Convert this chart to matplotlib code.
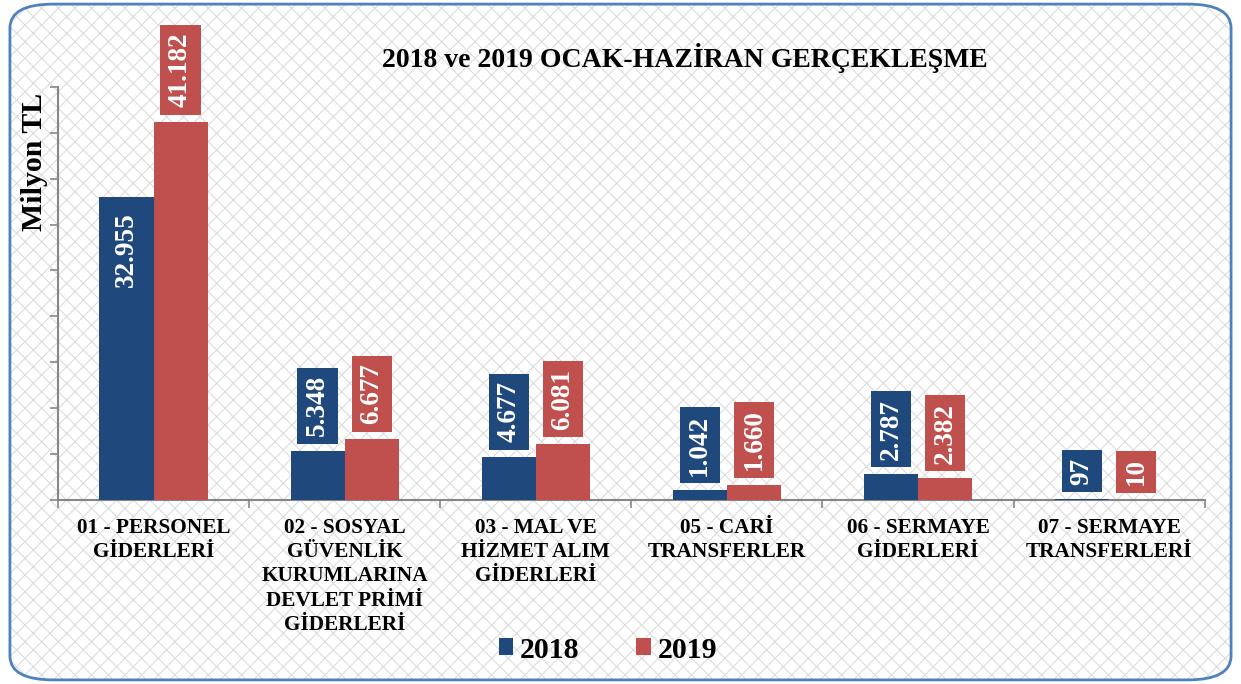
import matplotlib.pyplot as plt
from matplotlib.patches import FancyBboxPatch
import numpy as np

plt.rcParams['font.family'] = ['Liberation Serif', 'DejaVu Serif']
plt.rcParams['font.weight'] = 'bold'
plt.rcParams['hatch.linewidth'] = 0.8

# veriler (milyon TL)
categories = ['01 - PERSONEL\nGİDERLERİ',
              '02 - SOSYAL\nGÜVENLİK\nKURUMLARINA\nDEVLET PRİMİ\nGİDERLERİ',
              '03 - MAL VE\nHİZMET ALIM\nGİDERLERİ',
              '05 - CARİ\nTRANSFERLER',
              '06 - SERMAYE\nGİDERLERİ',
              '07 - SERMAYE\nTRANSFERLERİ']
values_2018 = [32955, 5348, 4677, 1042, 2787, 97]
values_2019 = [41182, 6677, 6081, 1660, 2382, 10]

blue = '#1F497D'
red = '#C0504D'

fig = plt.figure(figsize=(12.41, 6.84), dpi=100)

# arka plan deseni ve kenarlik
bg = FancyBboxPatch((0.008, 0.006), 0.984, 0.988,
                    boxstyle='round,pad=0,rounding_size=0.035',
                    transform=fig.transFigure, facecolor='white',
                    edgecolor='#dcdcdc', hatch='xx', linewidth=0, zorder=-10)
fig.patches.append(bg)
border = FancyBboxPatch((0.008, 0.006), 0.984, 0.988,
                        boxstyle='round,pad=0,rounding_size=0.035',
                        transform=fig.transFigure, facecolor='none',
                        edgecolor='#4F81BD', linewidth=2, zorder=-9)
fig.patches.append(border)

ax = fig.add_axes([0.0467, 0.269, 0.924, 0.604])
ax.set_facecolor('none')

x = np.arange(len(categories))
w = 0.283
bars1 = ax.bar(x - w / 2, values_2018, w, color=blue, label='2018', zorder=3)
bars2 = ax.bar(x + w / 2, values_2019, w, color=red, label='2019', zorder=3)

ax.set_ylim(0, 45000)
ax.set_xlim(-0.5, len(categories) - 0.5)

# etiketler
inside = {(0, 0)}
for s, (bars, vals, col) in enumerate([(bars1, values_2018, blue), (bars2, values_2019, red)]):
    for i, (b, v) in enumerate(zip(bars, vals)):
        txt = f'{v:,}'.replace(',', '.')
        cx = b.get_x() + b.get_width() / 2
        if (s, i) in inside:
            ax.annotate(txt, (cx, v), xytext=(0, -11), textcoords='offset points',
                        rotation=90, ha='center', va='top', color='white',
                        fontsize=19.5, fontweight='bold', zorder=5)
        else:
            ax.annotate(txt, (cx, v), xytext=(0, 10.5), textcoords='offset points',
                        rotation=90, ha='center', va='bottom', color='white',
                        fontsize=19.5, fontweight='bold', zorder=5,
                        bbox=dict(boxstyle='square,pad=0.28', facecolor=col,
                                  edgecolor='none'))

# eksenler
for sp in ['top', 'right']:
    ax.spines[sp].set_visible(False)
ax.spines['left'].set_color('#868686')
ax.spines['bottom'].set_color('#868686')
ax.spines['left'].set_linewidth(1.5)
ax.spines['bottom'].set_linewidth(1.5)

ax.set_yticks(np.arange(0, 45001, 5000))
ax.tick_params(axis='y', length=6, width=1.2, color='#868686', labelleft=False)
ax.set_xticks(np.arange(-0.5, len(categories), 1.0))
ax.tick_params(axis='x', which='major', length=6, width=1.2, color='#868686',
               labelbottom=False)
ax.set_xticks(x, minor=True)
ax.set_xticklabels(categories, minor=True, fontsize=15.3, fontweight='bold',
                   linespacing=1.28)
ax.tick_params(axis='x', which='minor', length=0, pad=13)

ax.set_title('2018 ve 2019 OCAK-HAZİRAN GERÇEKLEŞME', fontsize=20,
             fontweight='bold', x=(685 - 58) / 1147, pad=14)
fig.text(35 / 1241, 1 - 162 / 684, 'Milyon TL', rotation=90, ha='center',
         va='center', fontsize=21.5, fontweight='bold')

fig.legend(handles=[bars1, bars2], labels=['2018', '2019'], loc='center',
           bbox_to_anchor=(608 / 1241, 1 - 650 / 684), ncol=2, frameon=False,
           prop={'size': 21.5, 'weight': 'bold'}, handlelength=0.5,
           handleheight=0.5, columnspacing=1.9, handletextpad=0.22)

plt.savefig('out.png', dpi=100)
